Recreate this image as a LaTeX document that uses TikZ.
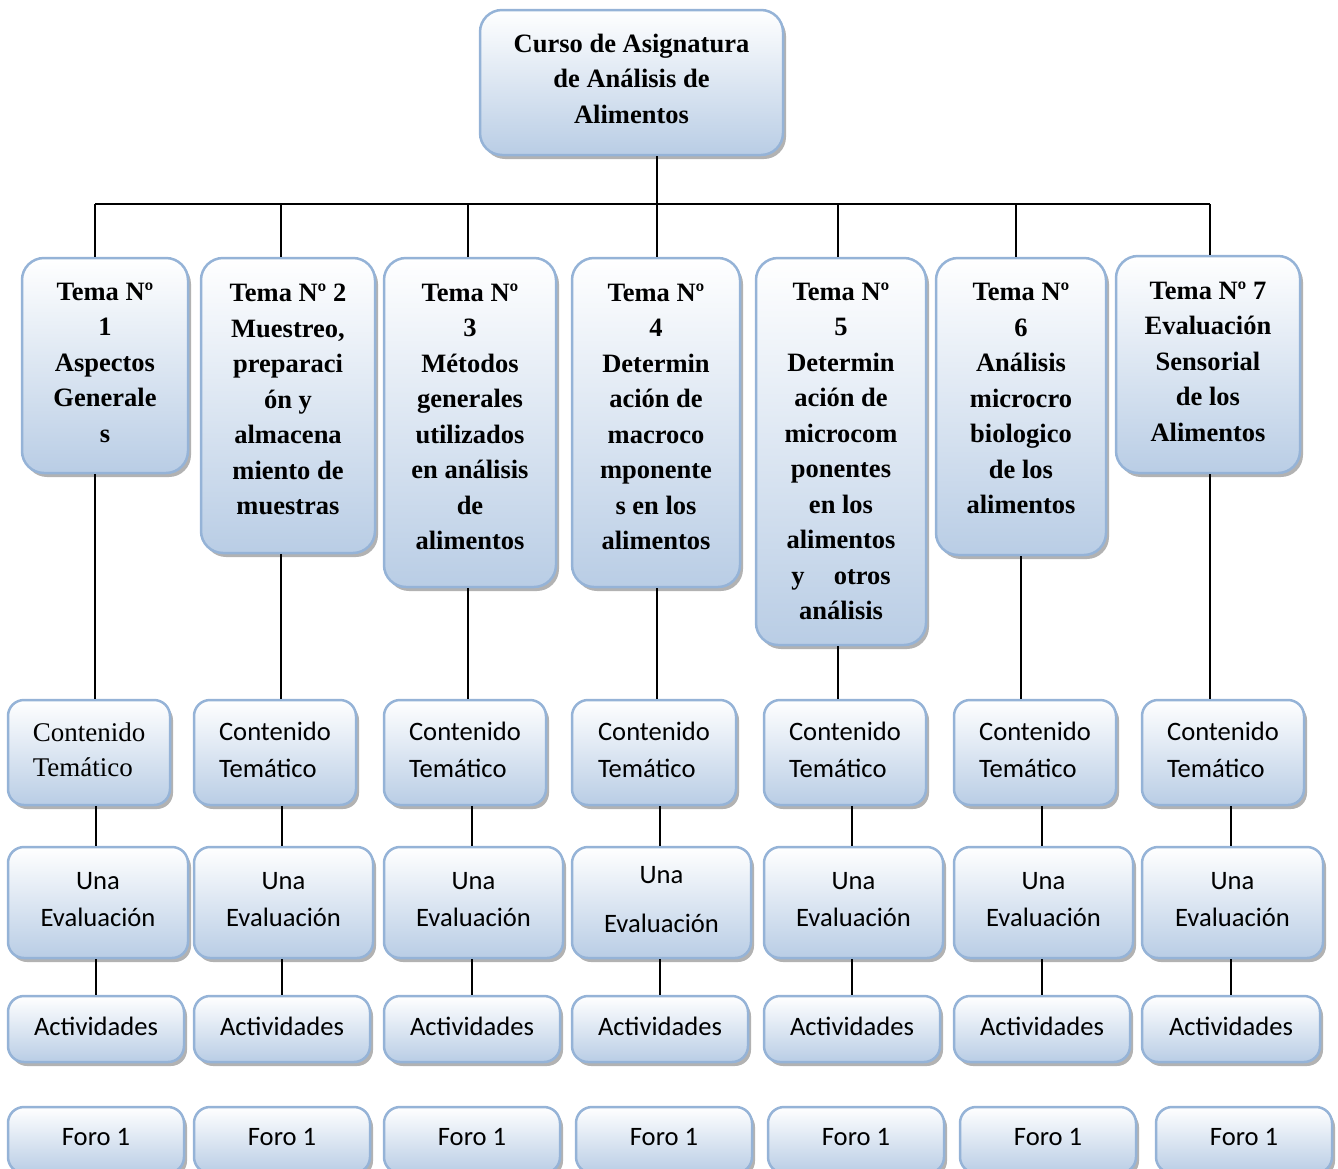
\documentclass[tikz,border=0pt]{standalone}
\usepackage{fontspec}
\setmainfont{Liberation Serif}
\newfontfamily\calibri{Carlito}
\usetikzlibrary{shadows}
\definecolor{boxline}{HTML}{95B3D7}
\definecolor{boxfill}{HTML}{B9CDE5}
\tikzset{
  % Rounded box with the soft blue gradient and a grey drop shadow
  bluebox/.style={
    draw=boxline, line width=2.5pt, rounded corners=#1,
    top color=white, bottom color=boxfill,
    drop shadow={shadow xshift=3pt, shadow yshift=-4pt, fill=black!55, opacity=0.55},
    align=center, inner sep=4pt},
  % Course and topic boxes (bold serif)
  tema/.style={
    bluebox=22pt, minimum width=#1,
    font=\bfseries\fontsize{26.5}{35.5}\selectfont},
  % Boxes under each topic (sans)
  part/.style={
    bluebox=16pt, minimum width=#1, text depth=6pt,
    font=\calibri\fontsize{26.6}{37}\selectfont},
  % Tree lines
  link/.style={draw=black, line width=1.5pt},
}

\begin{document}
\begin{tikzpicture}[x=1pt, y=-1pt]
  \useasboundingbox (0,0) rectangle (1338,1168);

  % --- Course ------------------------------------------------------------
  \node[tema=303pt, minimum height=145pt, text depth=8pt] (curso) at (631.5,82.5)
       {Curso de Asignatura\\de Análisis de\\Alimentos};

  % --- Topics ------------------------------------------------------------
  \node[tema=166pt, minimum height=215pt, text depth=6pt] (t1) at (105,365.5)
       {Tema Nº\\1\\Aspectos\\Generale\\s};
  \node[tema=174pt, minimum height=295pt, text depth=12pt] (t2) at (288,405.5)
       {Tema Nº 2\\Muestreo,\\preparaci\\ón y\\almacena\\miento de\\muestras};
  \node[tema=172pt, minimum height=329pt, text depth=12pt] (t3) at (470,422.5)
       {Tema Nº\\3\\Métodos\\generales\\utilizados\\en análisis\\de\\alimentos};
  \node[tema=168pt, minimum height=329pt, text depth=12pt] (t4) at (656,422.5)
       {Tema Nº\\4\\Determin\\ación de\\macroco\\mponente\\s en los\\alimentos};
  \node[tema=170pt, minimum height=387pt] (t5) at (841,451.5)
       {Tema Nº\\5\\Determin\\ación de\\microcom\\ponentes\\en los\\alimentos\\y\hspace{1.1em}otros\\análisis};
  \node[tema=170pt, minimum height=297pt, text depth=16pt] (t6) at (1021,406.5)
       {Tema Nº\\6\\Análisis\\microcro\\biologico\\de los\\alimentos};
  \node[tema=184pt, minimum height=217pt, text depth=6pt] (t7) at (1208,364.5)
       {Tema Nº 7\\Evaluación\\Sensorial\\de los\\Alimentos};

  % --- Contents ----------------------------------------------------------
  \node[part=162pt, minimum height=105pt, align=left,
        font=\fontsize{27}{35}\selectfont] (c1) at (89,752.5) {Contenido\\Temático};
  \node[part=162pt, minimum height=105pt, align=left] (c2) at (275,752.5)  {Contenido\\Temático};
  \node[part=162pt, minimum height=105pt, align=left] (c3) at (465,752.5)  {Contenido\\Temático};
  \node[part=164pt, minimum height=105pt, align=left] (c4) at (654,752.5)  {Contenido\\Temático};
  \node[part=162pt, minimum height=105pt, align=left] (c5) at (845,752.5)  {Contenido\\Temático};
  \node[part=162pt, minimum height=105pt, align=left] (c6) at (1035,752.5) {Contenido\\Temático};
  \node[part=162pt, minimum height=105pt, align=left] (c7) at (1223,752.5) {Contenido\\Temático};

  % --- Evaluations -------------------------------------------------------
  \node[part=180pt, minimum height=111pt] (u1) at (98,902.5)    {Una\\Evaluación};
  \node[part=179pt, minimum height=111pt] (u2) at (283.5,902.5) {Una\\Evaluación};
  \node[part=179pt, minimum height=111pt] (u3) at (473.5,902.5) {Una\\Evaluación};
  \node[part=179pt, minimum height=111pt] (u4) at (661.5,902.5) {Una\\[12pt]Evaluación};
  \node[part=179pt, minimum height=111pt] (u5) at (853.5,902.5) {Una\\Evaluación};
  \node[part=179pt, minimum height=111pt] (u6) at (1043.5,902.5) {Una\\Evaluación};
  \node[part=181pt, minimum height=111pt] (u7) at (1232.5,902.5) {Una\\Evaluación};

  % --- Activities --------------------------------------------------------
  \node[part=176pt, minimum height=66pt] (a1) at (96,1029)   {Actividades};
  \node[part=176pt, minimum height=66pt] (a2) at (282,1029)  {Actividades};
  \node[part=176pt, minimum height=66pt] (a3) at (472,1029)  {Actividades};
  \node[part=176pt, minimum height=66pt] (a4) at (660,1029)  {Actividades};
  \node[part=176pt, minimum height=66pt] (a5) at (852,1029)  {Actividades};
  \node[part=176pt, minimum height=66pt] (a6) at (1042,1029) {Actividades};
  \node[part=178pt, minimum height=66pt] (a7) at (1231,1029) {Actividades};

  % --- Forums ------------------------------------------------------------
  \node[part=176pt, minimum height=66pt] (f1) at (96,1140)   {Foro 1};
  \node[part=176pt, minimum height=66pt] (f2) at (282,1140)  {Foro 1};
  \node[part=176pt, minimum height=66pt] (f3) at (472,1140)  {Foro 1};
  \node[part=176pt, minimum height=66pt] (f4) at (664,1140)  {Foro 1};
  \node[part=176pt, minimum height=66pt] (f5) at (856,1140)  {Foro 1};
  \node[part=176pt, minimum height=66pt] (f6) at (1048,1140) {Foro 1};
  \node[part=176pt, minimum height=66pt] (f7) at (1244,1140) {Foro 1};

  % --- Tree --------------------------------------------------------------
  \coordinate (d1) at (95,204);
  \coordinate (d2) at (281,204);
  \coordinate (d3) at (468,204);
  \coordinate (d4) at (657,204);
  \coordinate (d5) at (838,204);
  \coordinate (d6) at (1016,204);
  \coordinate (d7) at (1210,204);

  \draw[link] (curso.south -| d4) -- (d4);
  \draw[link] (d1) -- (d7);

  \draw[link] (d1) -- (d1 |- t1.north) (t1.south -| d1) -- (c1.north -| d1);
  \draw[link] (d2) -- (d2 |- t2.north) (t2.south -| d2) -- (c2.north -| d2);
  \draw[link] (d3) -- (d3 |- t3.north) (t3.south -| d3) -- (c3.north -| d3);
  \draw[link] (d4) -- (d4 |- t4.north) (t4.south -| d4) -- (c4.north -| d4);
  \draw[link] (d5) -- (d5 |- t5.north) (t5.south -| d5) -- (c5.north -| d5);
  \draw[link] (d6) -- (d6 |- t6.north) (t6.south -| t6.south) -- (c6.north -| t6.south);
  \draw[link] (d7) -- (d7 |- t7.north) (t7.south -| d7) -- (c7.north -| d7);

  \draw[link] (c1.south -| a1) -- (u1.north -| a1) (u1.south -| a1) -- (a1);
  \draw[link] (c2.south -| a2) -- (u2.north -| a2) (u2.south -| a2) -- (a2);
  \draw[link] (c3.south -| a3) -- (u3.north -| a3) (u3.south -| a3) -- (a3);
  \draw[link] (c4.south -| a4) -- (u4.north -| a4) (u4.south -| a4) -- (a4);
  \draw[link] (c5.south -| a5) -- (u5.north -| a5) (u5.south -| a5) -- (a5);
  \draw[link] (c6.south -| a6) -- (u6.north -| a6) (u6.south -| a6) -- (a6);
  \draw[link] (c7.south -| a7) -- (u7.north -| a7) (u7.south -| a7) -- (a7);

\end{tikzpicture}
\end{document}
